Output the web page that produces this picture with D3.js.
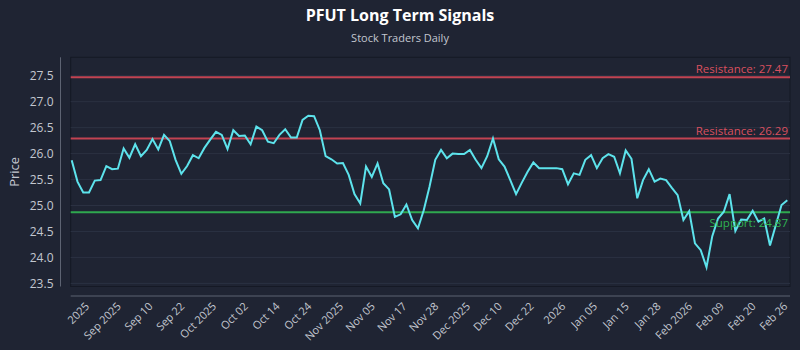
<!DOCTYPE html>
<html>
<head>
<meta charset="utf-8">
<script src="https://cdn.jsdelivr.net/npm/d3@7"></script>
<style>
  html, body { margin: 0; padding: 0; background: #1f2433; }
  svg { display: block; }
  text { font-family: "Open Sans", "Noto Sans", sans-serif; }
</style>
</head>
<body>
<svg id="chart" width="800" height="350"></svg>
<script>
// ---- Data ----
const title = "PFUT Long Term Signals";
const subtitle = "Stock Traders Daily";
const yLabel = "Price";

const prices = [
  25.87, 25.46, 25.25, 25.25, 25.48, 25.49, 25.76, 25.70, 25.71, 26.10,
  25.92, 26.18, 25.95, 26.07, 26.28, 26.08, 26.36, 26.24, 25.88, 25.61,
  25.76, 25.97, 25.91, 26.11, 26.27, 26.42, 26.36, 26.09, 26.45, 26.34,
  26.35, 26.18, 26.52, 26.45, 26.23, 26.20, 26.36, 26.47, 26.31, 26.31,
  26.65, 26.73, 26.72, 26.45, 25.95, 25.89, 25.81, 25.82, 25.59, 25.22,
  25.04, 25.75, 25.55, 25.81, 25.43, 25.31, 24.78, 24.83, 25.02, 24.72,
  24.56, 24.91, 25.36, 25.88, 26.07, 25.91, 26.00, 25.99, 25.99, 26.07,
  25.88, 25.72, 25.95, 26.29, 25.89, 25.75, 25.49, 25.22, 25.44, 25.65,
  25.83, 25.72, 25.72, 25.72, 25.72, 25.70, 25.41, 25.62, 25.59, 25.88,
  25.97, 25.72, 25.91, 25.99, 25.94, 25.62, 26.06, 25.90, 25.14, 25.49,
  25.70, 25.46, 25.52, 25.49, 25.34, 25.20, 24.72, 24.89, 24.27, 24.14,
  23.81, 24.41, 24.75, 24.88, 25.22, 24.51, 24.73, 24.72, 24.90, 24.69,
  24.75, 24.23, 24.62, 25.01, 25.10
];

const tickLabels = [
  "2025", "Sep 2025", "Sep 10", "Sep 22", "Oct 2025", "Oct 02", "Oct 14", "Oct 24",
  "Nov 2025", "Nov 05", "Nov 17", "Nov 28", "Dec 2025", "Dec 10", "Dec 22", "2026",
  "Jan 05", "Jan 15", "Jan 28", "Feb 2026", "Feb 09", "Feb 20", "Feb 26"
];
// position of each tick label, in data-point index units
const tickIndex = [
  3, 8.5, 14, 19.5, 25, 30.5, 36, 41.5, 47, 52.5, 58, 63.5,
  69, 74.5, 80, 85.5, 91, 96.5, 102, 107.5, 113, 118.5, 124
];

const yTicks = [23.5, 24.0, 24.5, 25.0, 25.5, 26.0, 26.5, 27.0, 27.5];

const resistanceLevels = [27.47, 26.29];
const supportLevels = [24.87];
const yDomain = [23.44, 27.855];

// ---- Drawing ----
const svg = d3.select("#chart");
const W = 800, H = 350;
const plot = { left: 70.7, right: 790, top: 57.3, bottom: 286.5 };

svg.append("rect").attr("width", W).attr("height", H).attr("fill", "#1f2433");

const x = d3.scaleLinear().domain([0, prices.length - 1]).range([71.7, 787.3]);
const y = d3.scaleLinear().domain(yDomain).range([plot.bottom, plot.top]);

// plot frame
svg.append("rect")
  .attr("x", plot.left).attr("y", plot.top)
  .attr("width", plot.right - plot.left).attr("height", plot.bottom - plot.top)
  .attr("fill", "#1f2433").attr("stroke", "#151925").attr("stroke-width", 1);

// gridlines
svg.append("g").selectAll("line").data(yTicks).join("line")
  .attr("x1", plot.left).attr("x2", plot.right)
  .attr("y1", d => y(d)).attr("y2", d => y(d))
  .attr("stroke", "#2b3142").attr("stroke-width", 1);

// y axis
const yAxis = svg.append("g").attr("transform", "translate(60.5,0)")
  .call(d3.axisLeft(y).tickValues(yTicks).tickFormat(d3.format(".1f")).tickSize(0).tickPadding(7));
yAxis.select(".domain").attr("stroke", "#5d6372").attr("d", `M0,${plot.top}V${plot.bottom}`);
yAxis.selectAll("text").attr("fill", "#c3c7d0").style("font-size", "12px");

// y label
svg.append("text")
  .attr("transform", `translate(19,${(plot.top + plot.bottom) / 2}) rotate(-90)`)
  .attr("text-anchor", "middle")
  .attr("fill", "#c3c7d0").style("font-size", "13px")
  .text(yLabel);

// x axis
const xAxisY = 296;
svg.append("line")
  .attr("x1", plot.left).attr("x2", plot.right)
  .attr("y1", xAxisY).attr("y2", xAxisY)
  .attr("stroke", "#5d6372").attr("stroke-width", 1);

svg.append("g").selectAll("text").data(tickIndex).join("text")
  .attr("transform", d => `translate(${x(d) + 1},${xAxisY + 11}) rotate(-45)`)
  .attr("text-anchor", "end")
  .attr("fill", "#c3c7d0").style("font-size", "11px")
  .text((d, i) => tickLabels[i]);

// resistance / support lines
const levels = [
  ...resistanceLevels.map(v => ({ v, kind: "Resistance", color: "#c24352", text: "#d9505f" })),
  ...supportLevels.map(v => ({ v, kind: "Support", color: "#2fa84f", text: "#2fb352" }))
];
svg.append("g").selectAll("line").data(levels).join("line")
  .attr("x1", plot.left).attr("x2", plot.right)
  .attr("y1", d => y(d.v)).attr("y2", d => y(d.v))
  .attr("stroke", d => d.color).attr("stroke-width", 2);

// price line
svg.append("path")
  .datum(prices)
  .attr("fill", "none")
  .attr("stroke", "#5de3ec")
  .attr("stroke-width", 2)
  .attr("stroke-linejoin", "miter")
  .attr("d", d3.line().x((d, i) => x(i)).y(d => y(d)));

// level labels
svg.append("g").selectAll("text").data(levels).join("text")
  .attr("x", 788)
  .attr("y", d => d.kind === "Support" ? y(d.v) + 15 : y(d.v) - 4)
  .attr("text-anchor", "end")
  .attr("fill", d => d.text).style("font-size", "11.5px")
  .text(d => `${d.kind}: ${d.v.toFixed(2)}`);

// titles
svg.append("text").attr("x", 400).attr("y", 20.5).attr("text-anchor", "middle")
  .attr("fill", "#ffffff").style("font-size", "16px").style("font-weight", "bold")
  .text(title);
svg.append("text").attr("x", 400).attr("y", 42).attr("text-anchor", "middle")
  .attr("fill", "#c3c7d0").style("font-size", "11px")
  .text(subtitle);
</script>
</body>
</html>
